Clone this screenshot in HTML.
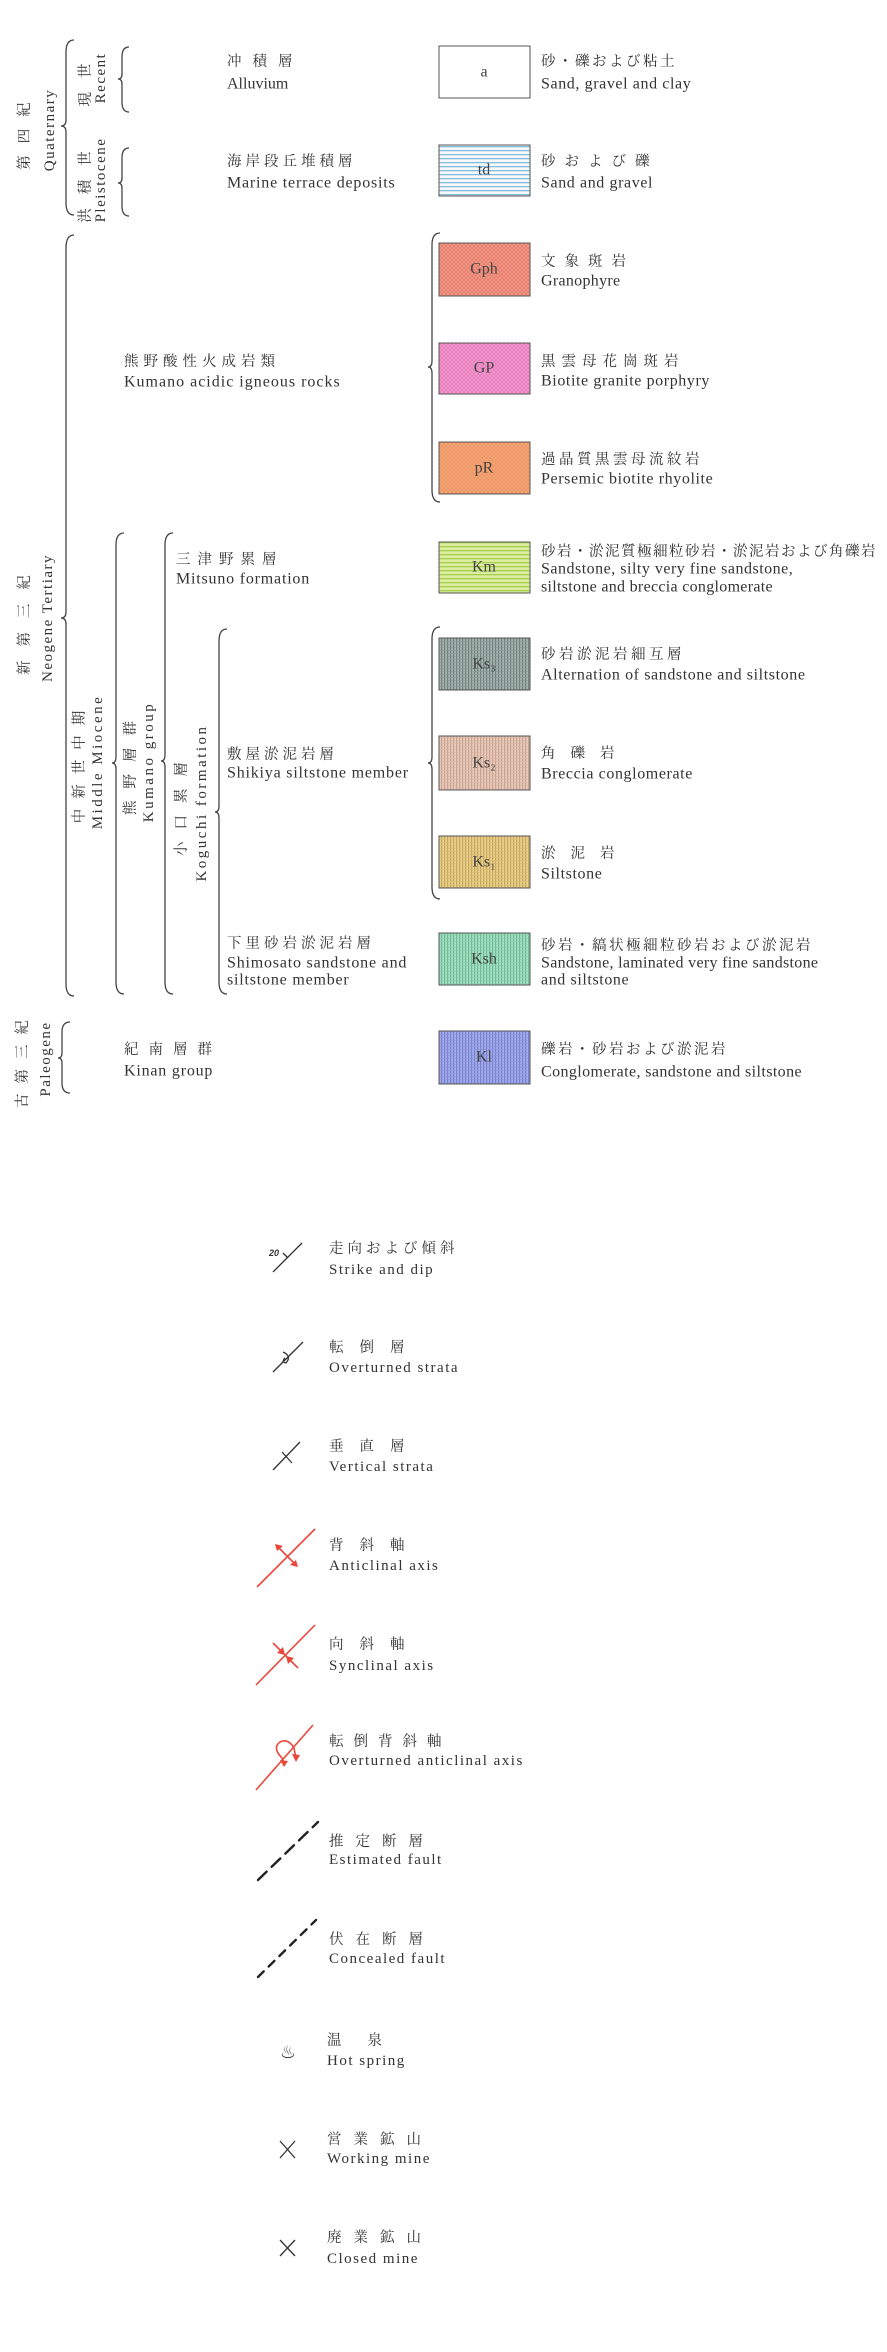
<!DOCTYPE html>
<html><head><meta charset="utf-8">
<style>
html,body{margin:0;padding:0;background:#fff;}
svg{display:block;}
.t{font-family:"Liberation Serif","Noto Serif CJK SC",serif;font-size:16px;fill:#333;}
.j{font-family:"Liberation Serif","Noto Serif CJK JP","Noto Sans CJK JP",serif;font-size:14.5px;fill:#333;}
.s{font-family:"Liberation Serif","Noto Serif CJK JP",serif;font-size:15px;fill:#333;letter-spacing:1.5px;}
.b{fill:none;stroke:#444;stroke-width:1.3;}
.bl{font-family:"Liberation Serif",serif;font-size:15px;fill:#333;}
</style></head><body>
<svg width="887" height="2352" viewBox="0 0 887 2352" xmlns="http://www.w3.org/2000/svg">
<defs>
<pattern id="ph" width="4" height="4" patternUnits="userSpaceOnUse"><rect width="4" height="4" fill="#f4fafc"/><rect y="2" width="4" height="1.3" fill="#86bcd8"/></pattern>
<pattern id="pgph" width="4" height="4" patternUnits="userSpaceOnUse"><rect width="4" height="4" fill="#f39a88"/><path d="M0 4L4 0M0 0L4 4" stroke="#e07060" stroke-width="0.6"/></pattern>
<pattern id="pgp" width="4" height="4" patternUnits="userSpaceOnUse"><rect width="4" height="4" fill="#f49ad0"/><path d="M0 4L4 0M0 0L4 4" stroke="#e070b0" stroke-width="0.6"/></pattern>
<pattern id="ppr" width="4" height="4" patternUnits="userSpaceOnUse"><rect width="4" height="4" fill="#f6a878"/><path d="M0 4L4 0M0 0L4 4" stroke="#e88a5a" stroke-width="0.6"/></pattern>
<pattern id="pkm" width="4" height="4" patternUnits="userSpaceOnUse"><rect width="4" height="4" fill="#dcee9c"/><rect y="2" width="4" height="1.3" fill="#a8cc58"/></pattern>
<pattern id="pks3" width="3" height="3" patternUnits="userSpaceOnUse"><rect width="3" height="3" fill="#a8b4b0"/><rect width="1.2" height="3" fill="#6e807c"/><rect y="2" width="3" height="0.6" fill="#8a9a96"/></pattern>
<pattern id="pks2" width="3" height="3" patternUnits="userSpaceOnUse"><rect width="3" height="3" fill="#e8cdbf"/><rect width="1.2" height="3" fill="#c8a08c"/><rect y="2" width="3" height="0.6" fill="#d8b4a2"/></pattern>
<pattern id="pks1" width="3" height="3" patternUnits="userSpaceOnUse"><rect width="3" height="3" fill="#ead290"/><rect width="1.2" height="3" fill="#c8a458"/><rect y="2" width="3" height="0.6" fill="#d8bc70"/></pattern>
<pattern id="pksh" width="3" height="3" patternUnits="userSpaceOnUse"><rect width="3" height="3" fill="#a8e0c4"/><rect width="1.2" height="3" fill="#6ab894"/><rect y="2" width="3" height="0.6" fill="#88ccaa"/></pattern>
<pattern id="pki" width="3" height="3" patternUnits="userSpaceOnUse"><rect width="3" height="3" fill="#a4acec"/><rect width="1.2" height="3" fill="#7480cc"/><rect y="2" width="3" height="0.6" fill="#8c96dc"/></pattern>
</defs>

<g class="b">
<path d="M74,40 Q66,40 66,52 L66,120 Q66,126 61,126 Q66,126 66,132 L66,203 Q66,215 74,215"/>
<path d="M129,47 Q122,47 122,57 L122,74 Q122,79 118,79 Q122,79 122,84 L122,102 Q122,112 129,112"/>
<path d="M129,148 Q122,148 122,158 L122,178 Q122,183 118,183 Q122,183 122,188 L122,206 Q122,216 129,216"/>
<path d="M74,235 Q66,235 66,248 L66,612 Q66,618 61,618 Q66,618 66,624 L66,984 Q66,996 74,996"/>
<path d="M124,533 Q116,533 116,545 L116,757 Q116,763 112,763 Q116,763 116,769 L116,982 Q116,994 124,994"/>
<path d="M173,533 Q165,533 165,545 L165,755 Q165,761 161,761 Q165,761 165,767 L165,982 Q165,994 173,994"/>
<path d="M227,629 Q219,629 219,641 L219,806 Q219,812 215,812 Q219,812 219,818 L219,982 Q219,994 227,994"/>
<path d="M440,233 Q432,233 432,245 L432,361 Q432,367 428,367 Q432,367 432,373 L432,490 Q432,502 440,502"/>
<path d="M440,627 Q432,627 432,639 L432,757 Q432,763 428,763 Q432,763 432,769 L432,887 Q432,899 440,899"/>
<path d="M70,1022 Q62,1022 62,1032 L62,1053 Q62,1058 58,1058 Q62,1058 62,1063 L62,1083 Q62,1093 70,1093"/>
</g>

<g class="j" text-anchor="middle" dominant-baseline="central">
<text transform="translate(25,130) rotate(-90)" letter-spacing="12">第四紀</text>
<text transform="translate(86,78) rotate(-90)" letter-spacing="14">現世</text>
<text transform="translate(86,180) rotate(-90)" letter-spacing="14">洪積世</text>
<text transform="translate(25,618) rotate(-90)" letter-spacing="14">新第三紀</text>
<text transform="translate(80,762) rotate(-90)" letter-spacing="10">中新世中期</text>
<text transform="translate(131,762) rotate(-90)" letter-spacing="12">熊野層群</text>
<text transform="translate(182,803) rotate(-90)" letter-spacing="12">小口累層</text>
<text transform="translate(23,1059) rotate(-90)" letter-spacing="10">古第三紀</text>
</g>
<g class="bl" text-anchor="middle" dominant-baseline="central" letter-spacing="1.5">
<text transform="translate(50,130) rotate(-90)">Quaternary</text>
<text transform="translate(101,78) rotate(-90)">Recent</text>
<text transform="translate(101,180) rotate(-90)">Pleistocene</text>
<text transform="translate(48,618) rotate(-90)">Neogene Tertiary</text>
<text transform="translate(98,762) rotate(-90)" letter-spacing="2.5">Middle Miocene</text>
<text transform="translate(149,762) rotate(-90)" letter-spacing="2.5">Kumano group</text>
<text transform="translate(202,803) rotate(-90)" letter-spacing="2.5">Koguchi formation</text>
<text transform="translate(46,1059) rotate(-90)">Paleogene</text>
</g>

<g dominant-baseline="central">
<text class="j" x="227" y="62" letter-spacing="11">冲積層</text>
<text class="t" x="227" y="84">Alluvium</text>
<text class="j" x="227" y="162" letter-spacing="4">海岸段丘堆積層</text>
<text class="t" x="227" y="183" letter-spacing="0.8">Marine terrace deposits</text>
<text class="j" x="124" y="362" letter-spacing="5">熊野酸性火成岩類</text>
<text class="t" x="124" y="382" letter-spacing="1">Kumano acidic igneous rocks</text>
<text class="j" x="176" y="560" letter-spacing="7">三津野累層</text>
<text class="t" x="176" y="579" letter-spacing="0.8">Mitsuno formation</text>
<text class="j" x="227" y="755" letter-spacing="4">敷屋淤泥岩層</text>
<text class="t" x="227" y="773" letter-spacing="0.8">Shikiya siltstone member</text>
<text class="j" x="227" y="944" letter-spacing="4">下里砂岩淤泥岩層</text>
<text class="t" x="227" y="963" letter-spacing="0.8">Shimosato sandstone and</text>
<text class="t" x="227" y="980" letter-spacing="0.8">siltstone member</text>
<text class="j" x="124" y="1050" letter-spacing="10">紀南層群</text>
<text class="t" x="124" y="1071" letter-spacing="0.8">Kinan group</text>
</g>

<g stroke="#555" stroke-width="1">
<rect x="439" y="46" width="91" height="52" fill="#fff"/>
<rect x="439" y="145" width="91" height="51" fill="url(#ph)"/>
<rect x="439" y="243" width="91" height="53" fill="url(#pgph)"/>
<rect x="439" y="343" width="91" height="51" fill="url(#pgp)"/>
<rect x="439" y="442" width="91" height="52" fill="url(#ppr)"/>
<rect x="439" y="542" width="91" height="51" fill="url(#pkm)"/>
<rect x="439" y="638" width="91" height="52" fill="url(#pks3)"/>
<rect x="439" y="736" width="91" height="54" fill="url(#pks2)"/>
<rect x="439" y="836" width="91" height="52" fill="url(#pks1)"/>
<rect x="439" y="933" width="91" height="52" fill="url(#pksh)"/>
<rect x="439" y="1031" width="91" height="53" fill="url(#pki)"/>
</g>
<g class="t" text-anchor="middle" dominant-baseline="central" style="fill:#444">
<text x="484" y="72">a</text>
<text x="484" y="170">td</text>
<text x="484" y="269">Gph</text>
<text x="484" y="368">GP</text>
<text x="484" y="468">pR</text>
<text x="484" y="567">Km</text>
<text x="484" y="664">Ks₃</text>
<text x="484" y="763">Ks₂</text>
<text x="484" y="862">Ks₁</text>
<text x="484" y="959">Ksh</text>
<text x="484" y="1057">Kl</text>
</g>

<g dominant-baseline="central">
<text class="j" x="541" y="62" letter-spacing="2.5">砂・礫および粘土</text>
<text class="t" x="541" y="84" letter-spacing="0.6">Sand, gravel and clay</text>
<text class="j" x="541" y="162" letter-spacing="9">砂および礫</text>
<text class="t" x="541" y="183" letter-spacing="0.6">Sand and gravel</text>
<text class="j" x="541" y="262" letter-spacing="9">文象斑岩</text>
<text class="t" x="541" y="281" letter-spacing="0.3">Granophyre</text>
<text class="j" x="541" y="362" letter-spacing="6">黒雲母花崗斑岩</text>
<text class="t" x="541" y="381" letter-spacing="0.6">Biotite granite porphyry</text>
<text class="j" x="541" y="460" letter-spacing="3.5">過晶質黒雲母流紋岩</text>
<text class="t" x="541" y="479" letter-spacing="0.6">Persemic biotite rhyolite</text>
<text class="j" x="541" y="552" letter-spacing="1.5">砂岩・淤泥質極細粒砂岩・淤泥岩および角礫岩</text>
<text class="t" x="541" y="569" letter-spacing="0.5">Sandstone, silty very fine sandstone,</text>
<text class="t" x="541" y="587" letter-spacing="0.3">siltstone and breccia conglomerate</text>
<text class="j" x="541" y="655" letter-spacing="3.5">砂岩淤泥岩細互層</text>
<text class="t" x="541" y="675" letter-spacing="0.6">Alternation of sandstone and siltstone</text>
<text class="j" x="541" y="754" letter-spacing="15">角礫岩</text>
<text class="t" x="541" y="774" letter-spacing="0.6">Breccia conglomerate</text>
<text class="j" x="541" y="854" letter-spacing="15">淤泥岩</text>
<text class="t" x="541" y="874" letter-spacing="0.6">Siltstone</text>
<text class="j" x="541" y="946" letter-spacing="2.5">砂岩・縞状極細粒砂岩および淤泥岩</text>
<text class="t" x="541" y="963" letter-spacing="0.3">Sandstone, laminated very fine sandstone</text>
<text class="t" x="541" y="980" letter-spacing="0.6">and siltstone</text>
<text class="j" x="541" y="1050" letter-spacing="2.5">礫岩・砂岩および淤泥岩</text>
<text class="t" x="541" y="1072" letter-spacing="0.4">Conglomerate, sandstone and siltstone</text>
</g>

<g stroke="#333" stroke-width="1.3" fill="none">
<line x1="273" y1="1272" x2="302" y2="1243"/>
<line x1="288" y1="1258" x2="283" y2="1253"/>
<line x1="273" y1="1372" x2="303" y2="1342"/>
<path d="M283,1352 Q292,1356 286,1363 Q281,1362 285,1358"/>
<line x1="273" y1="1470" x2="300" y2="1442"/>
<line x1="282" y1="1452" x2="292" y2="1463"/>
</g>
<text x="269" y="1256" style="font-family:'Liberation Sans',sans-serif;font-size:9px;font-weight:bold;font-style:italic;fill:#333">20</text>

<g stroke="#e8473a" stroke-width="1.6" fill="#e8473a">
<line x1="257" y1="1587" x2="315" y2="1529"/>
<line x1="278" y1="1547" x2="295" y2="1564"/>
<path d="M275,1544 L283,1546 L277,1551 Z" stroke="none"/>
<path d="M298,1567 L290,1565 L296,1560 Z" stroke="none"/>
<line x1="256" y1="1685" x2="315" y2="1625"/>
<line x1="273" y1="1643" x2="298" y2="1668"/>
<path d="M285,1655 L277,1653 L283,1647 Z" stroke="none"/>
<path d="M286,1656 L294,1658 L288,1664 Z" stroke="none"/>
<line x1="256" y1="1790" x2="313" y2="1725"/>
<path d="M282,1758 Q272,1748 280,1742 Q288,1738 294,1748 L296,1758" fill="none"/>
<path d="M296,1762 L292,1754 L300,1755 Z" stroke="none"/>
<line x1="282" y1="1758" x2="284" y2="1764"/>
<path d="M284,1767 L280,1760 L288,1761 Z" stroke="none"/>
</g>

<g stroke="#222" stroke-width="2.4" fill="none" stroke-linecap="round">
<line x1="258" y1="1880" x2="318" y2="1822" stroke-dasharray="12 7"/>
<line x1="258" y1="1977" x2="316" y2="1920" stroke-dasharray="8 7"/>
</g>
<text x="288" y="2058" text-anchor="middle" style="font-family:'DejaVu Sans',sans-serif;font-size:18px;fill:#333">♨</text>
<g stroke="#333" stroke-width="1.3">
<line x1="280" y1="2141" x2="295" y2="2158"/><line x1="295" y1="2141" x2="280" y2="2158"/>
<line x1="280" y1="2240" x2="295" y2="2256"/><line x1="295" y1="2240" x2="280" y2="2256"/>
</g>

<g dominant-baseline="central">
<text class="j" x="329" y="1249" letter-spacing="4">走向および傾斜</text>
<text class="s" x="329" y="1270">Strike and dip</text>
<text class="j" x="329" y="1348" letter-spacing="16">転倒層</text>
<text class="s" x="329" y="1368">Overturned strata</text>
<text class="j" x="329" y="1447" letter-spacing="16">垂直層</text>
<text class="s" x="329" y="1467">Vertical strata</text>
<text class="j" x="329" y="1546" letter-spacing="16">背斜軸</text>
<text class="s" x="329" y="1566">Anticlinal axis</text>
<text class="j" x="329" y="1645" letter-spacing="16">向斜軸</text>
<text class="s" x="329" y="1666">Synclinal axis</text>
<text class="j" x="329" y="1742" letter-spacing="10">転倒背斜軸</text>
<text class="s" x="329" y="1761">Overturned anticlinal axis</text>
<text class="j" x="329" y="1842" letter-spacing="12">推定断層</text>
<text class="s" x="329" y="1860">Estimated fault</text>
<text class="j" x="329" y="1940" letter-spacing="12">伏在断層</text>
<text class="s" x="329" y="1959">Concealed fault</text>
<text class="j" x="327" y="2041" letter-spacing="26">温泉</text>
<text class="s" x="327" y="2061">Hot spring</text>
<text class="j" x="327" y="2140" letter-spacing="12">営業鉱山</text>
<text class="s" x="327" y="2159">Working mine</text>
<text class="j" x="327" y="2238" letter-spacing="12">廃業鉱山</text>
<text class="s" x="327" y="2259">Closed mine</text>
</g>
</svg>
</body></html>
